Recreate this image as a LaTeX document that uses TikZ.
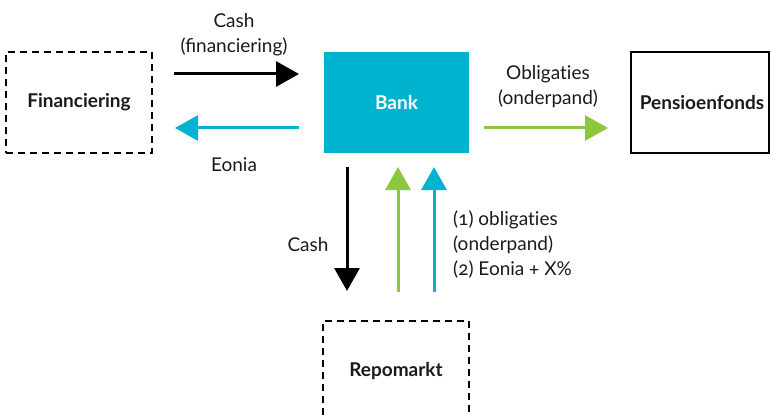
\documentclass[tikz,border=0pt]{standalone}
\usepackage{fontspec}
\setmainfont{Lato}[Numbers=OldStyle]
\usetikzlibrary{arrows.meta}
\definecolor{bankcyan}{HTML}{00B4CF}
\definecolor{flowgreen}{HTML}{8DC63F}
\definecolor{txt}{HTML}{1A1A1A}
\newcommand{\lblfont}{\fontsize{19}{25}\selectfont}
\begin{document}
\begin{tikzpicture}[x=1pt,y=-1pt,
  every node/.style={font=\lblfont, text=txt},
  dashbox/.style={draw=black, line width=2.2pt, dash pattern=on 7pt off 5pt, minimum width=146pt, minimum height=101pt, inner sep=0pt, font=\lblfont\bfseries},
  solidbox/.style={draw=black, line width=2.5pt, minimum width=138pt, minimum height=101pt, inner sep=0pt, font=\lblfont\bfseries},
  bankbox/.style={fill=bankcyan, minimum width=145pt, minimum height=101pt, inner sep=0pt, text=white, font=\lblfont\bfseries},
  flow/.style={line width=3pt, -{Triangle[length=23pt,width=25pt]}},
  lbl/.style={align=center, inner sep=0pt},
]
\useasboundingbox (0,0) rectangle (771,417);
\node[dashbox] (fin) at (79,102.5) {Financiering};
\node[bankbox] (bank) at (396.5,102.5) {Bank};
\node[solidbox] (pens) at (700,102.5) {};
\node[font=\lblfont\bfseries, inner sep=0pt] (penslbl) at (702,102.5) {Pensioenfonds};
\node[dashbox] (repo) at (396,371.5) {Repomarkt};

\coordinate (c1s) at (174,74); \coordinate (c1e) at (299,74);
\coordinate (e1s) at (299,128); \coordinate (e1e) at (175,128);
\coordinate (o1s) at (484,128); \coordinate (o1e) at (608,128);
\coordinate (c2s) at (347,167); \coordinate (c2e) at (347,291);
\coordinate (g2s) at (398,292); \coordinate (g2e) at (398,167);
\coordinate (b2s) at (434,292); \coordinate (b2e) at (434,167);

\draw[flow, black] (c1s) -- (c1e);
\draw[flow, bankcyan] (e1s) -- (e1e);
\draw[flow, flowgreen] (o1s) -- (o1e);
\draw[flow, black] (c2s) -- (c2e);
\draw[flow, flowgreen] (g2s) -- (g2e);
\draw[flow, bankcyan] (b2s) -- (b2e);

\node[lbl] (lc1) at (234,35) {Cash\\(financiering)};
\node[lbl] (le1) at (234,165) {Eonia};
\node[lbl] (lo1) at (548,87) {Obligat\kern0pt ies\\(onderpand)};
\node[lbl] (lc2) at (308,245) {Cash};
\node[lbl, align=left, anchor=west] (lr) at (453,245) {(1) obligat\kern0pt ies\\(onderpand)\\(2) Eonia + X\%};
\end{tikzpicture}
\end{document}
